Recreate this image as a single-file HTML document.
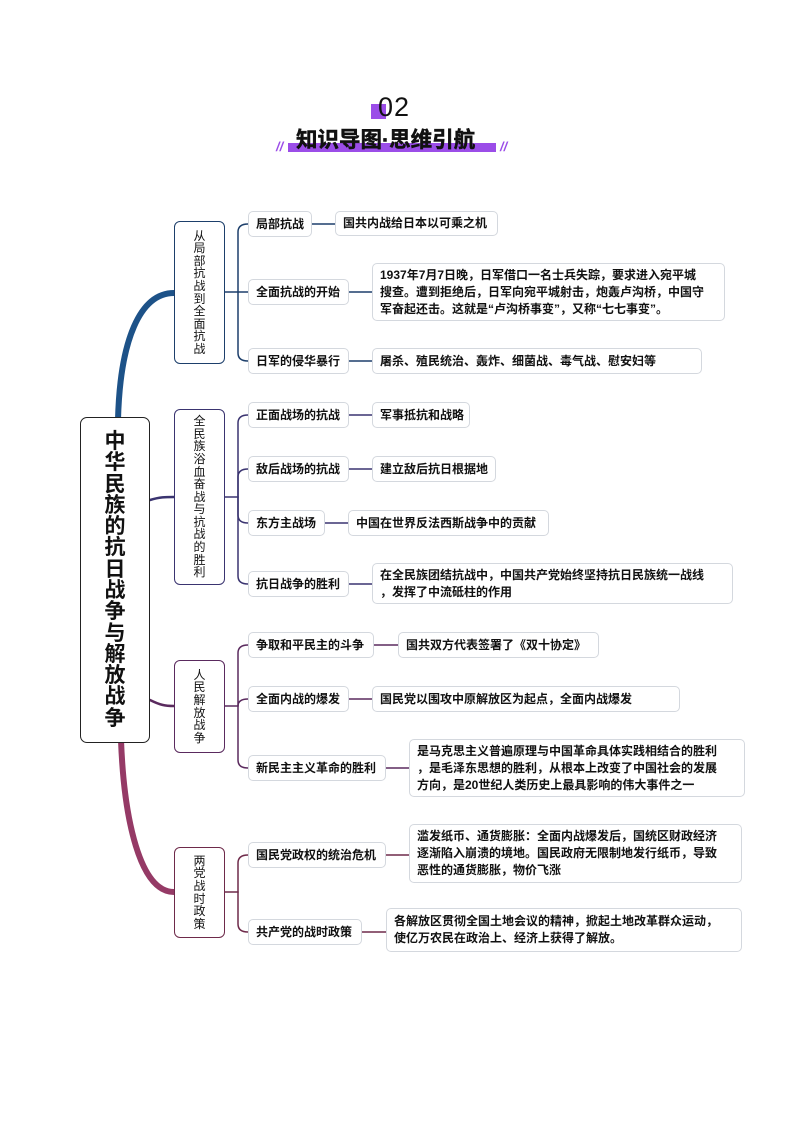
<!DOCTYPE html>
<html><head><meta charset="utf-8"><style>
body{margin:0;width:794px;height:1123px;background:#fff;position:relative;overflow:hidden;font-family:"Liberation Sans","Noto Sans CJK SC",sans-serif;}
.b{position:absolute;box-sizing:border-box;border:1px solid #d4d8de;border-radius:5px;background:#fff;font-size:12px;font-weight:bold;color:#111;display:flex;align-items:center;padding:0 7px;line-height:17px;white-space:nowrap}
.l1{position:absolute;box-sizing:border-box;border:1.3px solid #333;border-radius:6px;background:#fff;font-size:12px;color:#111;text-align:center;line-height:12.6px;display:flex;align-items:center;justify-content:center}
svg{position:absolute;left:0;top:0}
</style></head><body>
<div style="position:absolute;left:371px;top:104px;width:15px;height:15px;background:#9b4de8"></div>
<div style="position:absolute;left:378px;top:92px;font-size:27px;color:#111;letter-spacing:1px;line-height:30px">02</div>
<div style="position:absolute;left:288px;top:143px;width:208px;height:9px;background:#9b4de8"></div>
<div style="position:absolute;left:276px;top:139px;font-size:13px;color:#9b4de8;font-style:italic;font-weight:bold">//</div>
<div style="position:absolute;left:500px;top:139px;font-size:13px;color:#9b4de8;font-style:italic;font-weight:bold">//</div>
<div style="position:absolute;left:296px;top:126px;font-size:21.5px;font-weight:bold;color:#111;line-height:28px;letter-spacing:0px;-webkit-text-stroke:0.5px #111">知识导图·思维引航</div>

<svg width="794" height="1123">
<g fill="none" stroke-linecap="round">
<path d="M118 420 C120 340,140 293,174 293" stroke="#1d5288" stroke-width="6"/>
<path d="M150 500 C160 497,165 497,174 497" stroke="#3a3470" stroke-width="2.5"/>
<path d="M150 700 C160 705,165 706,174 706" stroke="#5a2a5e" stroke-width="2.5"/>
<path d="M121 740 C124 820,140 892,174 892" stroke="#953a66" stroke-width="6"/>
<g stroke="#1d3f6b" stroke-width="1.5">
<path d="M225 292 H238"/><path d="M238 292 V232 Q238 224 248 224"/><path d="M238 292 H248"/><path d="M238 292 V353 Q238 361 248 361"/>
<path d="M312 224 H335"/><path d="M349 292 H372"/><path d="M349 361 H372"/></g>
<g stroke="#3a3470" stroke-width="1.5">
<path d="M225 497 H238"/><path d="M238 497 V423 Q238 415 248 415"/><path d="M238 497 V477 Q238 469 248 469"/><path d="M238 497 V515 Q238 523 248 523"/><path d="M238 497 V576 Q238 584 248 584"/>
<path d="M349 415 H372"/><path d="M349 469 H372"/><path d="M325 523 H348"/><path d="M349 584 H372"/></g>
<g stroke="#5a2a5e" stroke-width="1.5">
<path d="M225 706 H238"/><path d="M238 706 V653 Q238 645 248 645"/><path d="M238 706 Q238 699 248 699"/><path d="M238 706 V760 Q238 768 248 768"/>
<path d="M374 645 H398"/><path d="M349 699 H372"/><path d="M386 768 H409"/></g>
<g stroke="#6e2a4a" stroke-width="1.5">
<path d="M225 892 H238"/><path d="M238 892 V863 Q238 855 248 855"/><path d="M238 892 V924 Q238 932 248 932"/>
<path d="M386 855 H409"/><path d="M362 932 H386"/></g>
</g></svg>

<div class="l1" style="left:80px;top:417px;width:70px;height:326px;border:1.5px solid #222;border-radius:7px;font-size:21px;font-weight:bold;line-height:21.3px">中<br>华<br>民<br>族<br>的<br>抗<br>日<br>战<br>争<br>与<br>解<br>放<br>战<br>争</div>

<div class="l1" style="left:174px;top:221px;width:51px;height:143px;border-color:#1d3f6b">从<br>局<br>部<br>抗<br>战<br>到<br>全<br>面<br>抗<br>战</div>
<div class="l1" style="left:174px;top:409px;width:51px;height:176px;border-color:#3a3470">全<br>民<br>族<br>浴<br>血<br>奋<br>战<br>与<br>抗<br>战<br>的<br>胜<br>利</div>
<div class="l1" style="left:174px;top:660px;width:51px;height:93px;border-color:#5a2a5e">人<br>民<br>解<br>放<br>战<br>争</div>
<div class="l1" style="left:174px;top:847px;width:51px;height:91px;border-color:#6e2a4a">两<br>党<br>战<br>时<br>政<br>策</div>

<div class="b" style="left:248px;top:211px;width:64px;height:26px">局部抗战</div>
<div class="b" style="left:335px;top:211px;width:163px;height:25px">国共内战给日本以可乘之机</div>
<div class="b" style="left:248px;top:279px;width:101px;height:26px">全面抗战的开始</div>
<div class="b" style="left:372px;top:263px;width:353px;height:58px">1937年7月7日晚，日军借口一名士兵失踪，要求进入宛平城<br>搜查。遭到拒绝后，日军向宛平城射击，炮轰卢沟桥，中国守<br>军奋起还击。这就是“卢沟桥事变”，又称“七七事变”。</div>
<div class="b" style="left:248px;top:348px;width:101px;height:26px">日军的侵华暴行</div>
<div class="b" style="left:372px;top:348px;width:330px;height:26px">屠杀、殖民统治、轰炸、细菌战、毒气战、慰安妇等</div>

<div class="b" style="left:248px;top:402px;width:101px;height:26px">正面战场的抗战</div>
<div class="b" style="left:372px;top:402px;width:98px;height:26px">军事抵抗和战略</div>
<div class="b" style="left:248px;top:456px;width:101px;height:26px">敌后战场的抗战</div>
<div class="b" style="left:372px;top:456px;width:124px;height:26px">建立敌后抗日根据地</div>
<div class="b" style="left:248px;top:510px;width:77px;height:26px">东方主战场</div>
<div class="b" style="left:348px;top:510px;width:201px;height:26px">中国在世界反法西斯战争中的贡献</div>
<div class="b" style="left:248px;top:571px;width:101px;height:26px">抗日战争的胜利</div>
<div class="b" style="left:372px;top:563px;width:361px;height:41px">在全民族团结抗战中，中国共产党始终坚持抗日民族统一战线<br>，发挥了中流砥柱的作用</div>

<div class="b" style="left:248px;top:632px;width:126px;height:26px">争取和平民主的斗争</div>
<div class="b" style="left:398px;top:632px;width:201px;height:26px">国共双方代表签署了《双十协定》</div>
<div class="b" style="left:248px;top:686px;width:101px;height:26px">全面内战的爆发</div>
<div class="b" style="left:372px;top:686px;width:308px;height:26px">国民党以围攻中原解放区为起点，全面内战爆发</div>
<div class="b" style="left:248px;top:755px;width:138px;height:26px">新民主主义革命的胜利</div>
<div class="b" style="left:409px;top:739px;width:336px;height:58px">是马克思主义普遍原理与中国革命具体实践相结合的胜利<br>，是毛泽东思想的胜利，从根本上改变了中国社会的发展<br>方向，是20世纪人类历史上最具影响的伟大事件之一</div>

<div class="b" style="left:248px;top:842px;width:138px;height:26px">国民党政权的统治危机</div>
<div class="b" style="left:409px;top:824px;width:333px;height:59px">滥发纸币、通货膨胀：全面内战爆发后，国统区财政经济<br>逐渐陷入崩溃的境地。国民政府无限制地发行纸币，导致<br>恶性的通货膨胀，物价飞涨</div>
<div class="b" style="left:248px;top:919px;width:114px;height:26px">共产党的战时政策</div>
<div class="b" style="left:386px;top:908px;width:356px;height:44px">各解放区贯彻全国土地会议的精神，掀起土地改革群众运动，<br>使亿万农民在政治上、经济上获得了解放。</div>
</body></html>
